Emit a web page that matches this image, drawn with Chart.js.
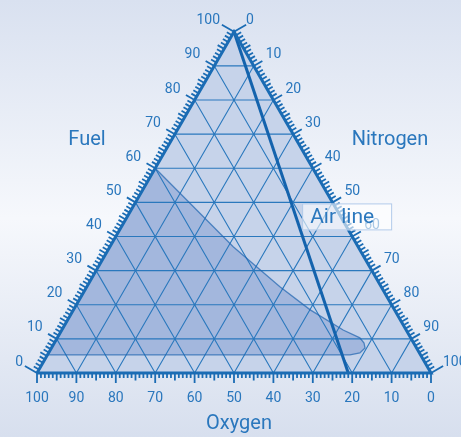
<!DOCTYPE html>
<html>
<head>
<meta charset="utf-8">
<script src="https://cdn.jsdelivr.net/npm/chart.js@4.4.1/dist/chart.umd.min.js"></script>
<style>
  html, body { margin: 0; padding: 0; overflow: hidden; background: #e2e8f4; }
  canvas { display: block; }
</style>
</head>
<body>
<canvas id="ternary" width="461" height="437"></canvas>
<script>
// Axis labels (percent), one set for each side of the triangle
const tickLabels = [0, 10, 20, 30, 40, 50, 60, 70, 80, 90, 100];
const gridLevels = [10, 20, 30, 40, 50, 60, 70, 80, 90];

// Flammable region outline: % fuel and % oxygen (nitrogen is the rest)
const regionFuel   = [60, 37.0, 25.3, 18.5, 12.6, 10.3, 8.8, 7.3, 5.9, 5.3, 5.3];
const regionOxygen = [40, 31.7, 25.7, 21.4, 16.0, 12.9, 12.6, 13.1, 15.1, 17.9, 94.7];

// Air line: pure fuel down to air (21 % oxygen, no fuel)
const airFuel   = [100, 0];
const airOxygen = [0, 21];

const axisTitles = { fuel: 'Fuel', nitrogen: 'Nitrogen', oxygen: 'Oxygen' };
const airLabel = 'Air line';

// Colours
const lineColor = '#1b6cb4',
      textColor = '#2a77bd',
      triColor = '#c6d3ea',
      regionColor = '#a3b7dd',
      fontName = 'Roboto, "DejaVu Sans", sans-serif';

const H = Math.sqrt(3) / 2;
const pxPerUnit = 3.94;          // matches the layout padding below

// ternary (fuel, oxygen, nitrogen = rest) -> cartesian
function toXY(fuel, oxygen) {
  const nitrogen = 100 - fuel - oxygen;
  return { x: nitrogen + fuel / 2, y: fuel * H };
}
const gap = { x: null, y: null };

// Each side: base point for a value plus outward direction (data units)
const sides = {
  oxygen:   { at: v => toXY(0, v),         dir: { x: 0, y: -1 } },
  fuel:     { at: v => toXY(v, 100 - v),   dir: { x: -H, y: 0.5 } },
  nitrogen: { at: v => toXY(100 - v, 0),   dir: { x: H, y: 0.5 } }
};

function tickLength(side, v) {
  if (side !== 'oxygen' && (v === 0 || v === 100)) return 14;
  if (v % 10 === 0) return 10;
  if (v % 5 === 0) return 7.5;
  return side === 'oxygen' ? 5 : 6;
}

function tickData(side) {
  const s = sides[side], pts = [];
  for (let v = 0; v <= 100; v++) {
    const p = s.at(v), len = tickLength(side, v) / pxPerUnit;
    pts.push(p, { x: p.x + s.dir.x * len, y: p.y + s.dir.y * len }, gap);
  }
  return pts;
}

// Grid: constant fuel (horizontal), constant oxygen, constant nitrogen
const gridData = [];
gridLevels.forEach(k => {
  gridData.push(toXY(k, 100 - k), toXY(k, 0), gap);
  gridData.push(toXY(0, k), toXY(100 - k, k), gap);
  gridData.push(toXY(0, 100 - k), toXY(100 - k, 0), gap);
});

const triangle = [toXY(0, 100), toXY(0, 0), toXY(100, 0), toXY(0, 100)];
const region = regionFuel.map((f, i) => toXY(f, regionOxygen[i]));
region.push(region[0]);
const airLine = airFuel.map((f, i) => toXY(f, airOxygen[i]));

// Page background: soft vertical gradient
const backgroundPlugin = {
  id: 'bg',
  beforeDraw(chart) {
    const { ctx, width, height } = chart;
    const g = ctx.createLinearGradient(0, 0, 0, height);
    g.addColorStop(0, '#d9e1f0');
    g.addColorStop(0.5, '#f6f8fc');
    g.addColorStop(1, '#d7dfee');
    ctx.save();
    ctx.fillStyle = g;
    ctx.fillRect(0, 0, width, height);
    ctx.restore();
  }
};

// Tick numbers, axis titles and the air line tag
const labelPlugin = {
  id: 'labels',
  afterDraw(chart) {
    const { ctx, chartArea } = chart;
    const xs = chart.scales.x, ys = chart.scales.y;
    const px = p => ({ x: xs.getPixelForValue(p.x), y: ys.getPixelForValue(p.y) });
    ctx.save();
    ctx.fillStyle = textColor;
    ctx.textBaseline = 'middle';
    ctx.font = '14px ' + fontName;

    tickLabels.forEach(v => {
      let p = px(sides.oxygen.at(v));
      ctx.textAlign = 'center';
      ctx.fillText(String(v), p.x, p.y + 25);
      p = px(sides.fuel.at(v));
      ctx.textAlign = 'right';
      ctx.fillText(String(v), p.x - 14, p.y - 11);
      p = px(sides.nitrogen.at(v));
      ctx.textAlign = 'left';
      ctx.fillText(String(v), p.x + 12, p.y - 11);
    });

    ctx.font = '20px ' + fontName;
    ctx.textAlign = 'center';
    ctx.fillText(axisTitles.fuel, chartArea.left + 50, chartArea.top + 108);
    ctx.fillText(axisTitles.nitrogen, chartArea.right - 41, chartArea.top + 108);
    ctx.fillText(axisTitles.oxygen, (chartArea.left + chartArea.right) / 2 + 5, chartArea.bottom + 51);

    // tag next to the air line, halfway up
    const a = px(toXY(50, airOxygen[1] / 2));
    const bx = a.x + 11, by = a.y + 1, bw = 90, bh = 27;
    ctx.fillStyle = 'rgba(255,255,255,0.6)';
    ctx.fillRect(bx, by, bw, bh);
    ctx.strokeStyle = 'rgba(170,196,232,0.9)';
    ctx.lineWidth = 1;
    ctx.strokeRect(bx + 0.5, by + 0.5, bw - 1, bh - 1);
    ctx.fillStyle = textColor;
    ctx.textAlign = 'left';
    ctx.font = '21px ' + fontName;
    ctx.fillText(airLabel, bx + 8, by + bh / 2 + 1);
    ctx.restore();
  }
};

const lineSet = (data, extra) => Object.assign({
  data: data,
  showLine: true,
  borderColor: lineColor,
  borderWidth: 1,
  pointRadius: 0,
  fill: false,
  clip: false,
  spanGaps: false,
  tension: 0
}, extra);

new Chart(document.getElementById('ternary'), {
  type: 'scatter',
  data: {
    datasets: [
      lineSet(triangle, { borderWidth: 0, backgroundColor: triColor, fill: 'shape', order: 10 }),
      lineSet(region, { borderWidth: 0, backgroundColor: regionColor, fill: 'shape', order: 9 }),
      lineSet(gridData, { borderWidth: 1.1, borderColor: '#2a78bd', order: 8 }),
      lineSet(region, { borderWidth: 1.3, borderColor: 'rgba(30,100,175,0.7)', order: 7 }),
      lineSet(airLine, { borderWidth: 3, borderColor: '#1463ad', order: 6 }),
      lineSet(triangle, { borderWidth: 3, borderJoinStyle: 'miter', order: 5 }),
      lineSet(tickData('oxygen'), { borderWidth: 1.8, order: 4 }),
      lineSet(tickData('fuel'), { borderWidth: 1.8, order: 4 }),
      lineSet(tickData('nitrogen'), { borderWidth: 1.8, order: 4 })
    ]
  },
  options: {
    responsive: false,
    animation: false,
    events: [],
    layout: { padding: { left: 37, right: 30, top: 31.8, bottom: 64 } },
    scales: {
      x: { type: 'linear', min: 0, max: 100, display: false },
      y: { type: 'linear', min: 0, max: 100 * H, display: false }
    },
    plugins: { legend: { display: false }, tooltip: { enabled: false } }
  },
  plugins: [backgroundPlugin, labelPlugin]
});
</script>
</body>
</html>
